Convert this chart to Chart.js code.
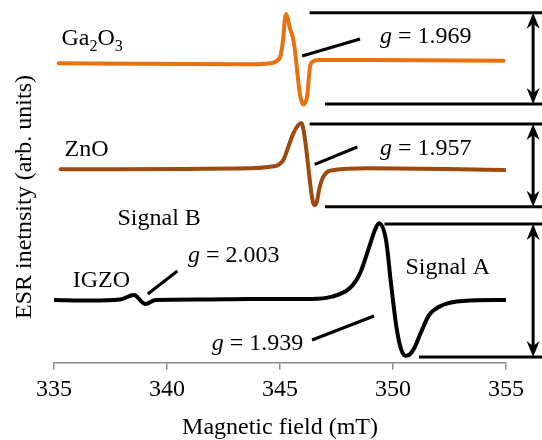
<!DOCTYPE html>
<html>
<head>
<meta charset="utf-8">
<script src="https://cdn.jsdelivr.net/npm/chart.js@4.4.1/dist/chart.umd.min.js"></script>
<style>
  html, body { margin: 0; padding: 0; background: #fff; }
</style>
</head>
<body>
<canvas id="esr" width="542" height="440"></canvas>
<script>
// x ticks (mT)
const fieldTicks = [335, 340, 345, 350, 355];

// Ga2O3 spectrum (field in mT, intensity in arb. units incl. offset)
const gaField = [335.21, 339.25, 343.67, 344.56, 344.85, 345.03, 345.15, 345.21, 345.27, 345.34, 345.44, 345.56, 345.66, 345.77, 345.88, 345.97, 346.05, 346.13, 346.21, 346.27, 346.33, 346.45, 346.69, 348.98, 354.89];
const gaSignal = [299.4, 298.9, 298.4, 299.4, 301.7, 307.7, 326, 342.7, 348.7, 344.4, 334.4, 326, 312.7, 289.4, 268.5, 260.5, 258.2, 261, 268, 283, 296, 301, 302.7, 302.7, 302];

// ZnO spectrum
const znoField = [335.29, 343.67, 344.56, 344.92, 345.15, 345.37, 345.59, 345.81, 345.95, 346.11, 346.25, 346.37, 346.46, 346.54, 346.63, 346.74, 346.92, 347.21, 348.98, 354.94];
const znoSignal = [193.4, 194.4, 196, 197.7, 202.7, 216, 229.4, 237.7, 239.7, 222.7, 196, 172.7, 160.5, 157.5, 161, 174, 186, 192, 194.4, 192.7];

// IGZO spectrum
const igzoField = [335.01, 336.59, 337.92, 338.54, 339.04, 339.50, 341.46, 343.67, 346.39, 347.30, 348.08, 348.54, 349.00, 349.20, 349.38, 349.69, 349.91, 350.15, 350.35, 350.55, 350.75, 350.95, 351.22, 351.60, 352.21, 353.13, 355.0];
const igzoSignal = [62.7, 62.2, 63.2, 67.7, 58.7, 62.7, 63.2, 63.7, 63.7, 66, 74.4, 89.4, 119.4, 132.7, 139.4, 122.7, 79.7, 36, 14, 7, 8.5, 15, 29.4, 47.7, 57.7, 61.7, 62.7];

// peak-to-peak reference levels: [start field, end field, level]
const refLevels = [
  [346.31, 356.6, 350], [346.99, 356.6, 258.7],
  [346.31, 356.6, 238.7], [346.99, 356.6, 156],
  [349.62, 356.6, 138.7], [351.15, 356.6, 5.7]
];
// double arrows: [field, top, bottom]
const ppArrows = [[356.2, 350, 258.7], [356.2, 238.7, 156], [356.2, 138.7, 5.7]];

// leader lines: [x1, y1, x2, y2]
const leaders = [
  [345.98, 306.7, 348.54, 323.7],
  [346.54, 198.4, 348.42, 215.7],
  [339.15, 68.7, 340.46, 91.7],
  [346.42, 22.7, 349.16, 46.7]
];

// text labels
const labels = [
  { x: 335.33, y: 317.7, parts: [['Ga'], ['2', 'sub'], ['O'], ['3', 'sub']] },
  { x: 349.42, y: 319.4, parts: [['g', 'it'], [' = 1.969']] },
  { x: 335.47, y: 206.7, parts: [['ZnO']] },
  { x: 349.42, y: 207.7, parts: [['g', 'it'], [' = 1.957']] },
  { x: 337.81, y: 137.7, parts: [['Signal B']] },
  { x: 335.83, y: 75.4, parts: [['IGZO']] },
  { x: 340.93, y: 101, parts: [['g', 'it'], [' = 2.003']] },
  { x: 350.55, y: 89, parts: [['Signal A']] },
  { x: 341.98, y: 12.7, parts: [['g', 'it'], [' = 1.939']] }
];

const yTitle = 'ESR inetnsity (arb. units)';

const SERIF = '"Liberation Serif", Tinos, "Times New Roman", Times, serif';
Chart.defaults.font.family = SERIF;
Chart.defaults.font.size = 24;
Chart.defaults.color = '#000';

const pts = (xs, ys) => xs.map((v, i) => ({ x: v, y: ys[i] }));

function spectrum(label, xs, ys, color) {
  return {
    label, data: pts(xs, ys), borderColor: color, borderWidth: 4,
    pointRadius: 0, cubicInterpolationMode: 'monotone', borderCapStyle: 'round', borderJoinStyle: 'round'
  };
}

const datasets = [
  spectrum('Ga2O3', gaField, gaSignal, '#e8720f'),
  spectrum('ZnO', znoField, znoSignal, '#9c4a0d'),
  spectrum('IGZO', igzoField, igzoSignal, '#000000')
];
refLevels.forEach(r => datasets.push({
  data: [{ x: r[0], y: r[2] }, { x: r[1], y: r[2] }],
  borderColor: '#000', borderWidth: 3, pointRadius: 0, clip: false
}));
leaders.forEach(l => datasets.push({
  data: [{ x: l[0], y: l[1] }, { x: l[2], y: l[3] }],
  borderColor: '#000', borderWidth: 3, pointRadius: 0, clip: false
}));

const annotations = {
  id: 'annotations',
  afterDatasetsDraw(chart) {
    const { ctx, scales: { x, y } } = chart;
    ctx.save();
    ctx.fillStyle = '#000';
    ctx.strokeStyle = '#000';
    ctx.textBaseline = 'alphabetic';
    labels.forEach(l => {
      let px = x.getPixelForValue(l.x);
      const py = y.getPixelForValue(l.y);
      l.parts.forEach(([t, style]) => {
        if (style === 'sub') {
          ctx.font = '16px ' + SERIF;
          ctx.fillText(t, px, py + 6);
        } else {
          ctx.font = (style === 'it' ? 'italic ' : '') + '24px ' + SERIF;
          ctx.fillText(t, px, py);
        }
        px += ctx.measureText(t).width;
      });
    });

    // y axis title (sits a bit below the plot centre in the original)
    ctx.save();
    ctx.translate(25, 197);
    ctx.rotate(-Math.PI / 2);
    ctx.font = '24px ' + SERIF;
    ctx.textAlign = 'center';
    ctx.textBaseline = 'middle';
    ctx.fillText(yTitle, 0, 0);
    ctx.restore();

    // double-headed arrows
    ppArrows.forEach(([f, top, bot]) => {
      const ax = x.getPixelForValue(f);
      const y1 = y.getPixelForValue(top);
      const y2 = y.getPixelForValue(bot);
      ctx.lineWidth = 3;
      ctx.beginPath();
      ctx.moveTo(ax, y1 + 8);
      ctx.lineTo(ax, y2 - 8);
      ctx.stroke();
      [[y1, 1], [y2, -1]].forEach(([ty, d]) => {
        ctx.beginPath();
        ctx.moveTo(ax, ty);
        ctx.lineTo(ax - 6.5, ty + d * 16);
        ctx.lineTo(ax, ty + d * 11);
        ctx.lineTo(ax + 6.5, ty + d * 16);
        ctx.closePath();
        ctx.fill();
      });
    });
    ctx.restore();
  }
};

new Chart(document.getElementById('esr'), {
  type: 'line',
  data: { datasets },
  options: {
    responsive: false,
    animation: false,
    layout: { padding: { top: 2.7, right: 36, bottom: 0, left: 0 } },
    plugins: { legend: { display: false }, tooltip: { enabled: false } },
    scales: {
      x: {
        type: 'linear', min: 335, max: 355,
        afterBuildTicks(s) { s.ticks = fieldTicks.map(v => ({ value: v })); },
        afterFit(s) { s.height = 77.3; },
        grid: { drawOnChartArea: false, drawTicks: true, tickLength: 7, color: '#8c8c8c', lineWidth: 1.5 },
        border: { color: '#8c8c8c', width: 1.5 },
        ticks: { padding: 6, color: '#000', font: { size: 24 } },
        title: { display: true, text: 'Magnetic field (mT)', padding: { top: 0, bottom: 0 }, font: { size: 24, lineHeight: 1 } }
      },
      y: {
        min: 0, max: 360,
        afterFit(s) { s.width = 54; },
        ticks: { display: false },
        grid: { display: false },
        border: { display: false },
        title: { display: false }
      }
    }
  },
  plugins: [annotations]
});
</script>
</body>
</html>
